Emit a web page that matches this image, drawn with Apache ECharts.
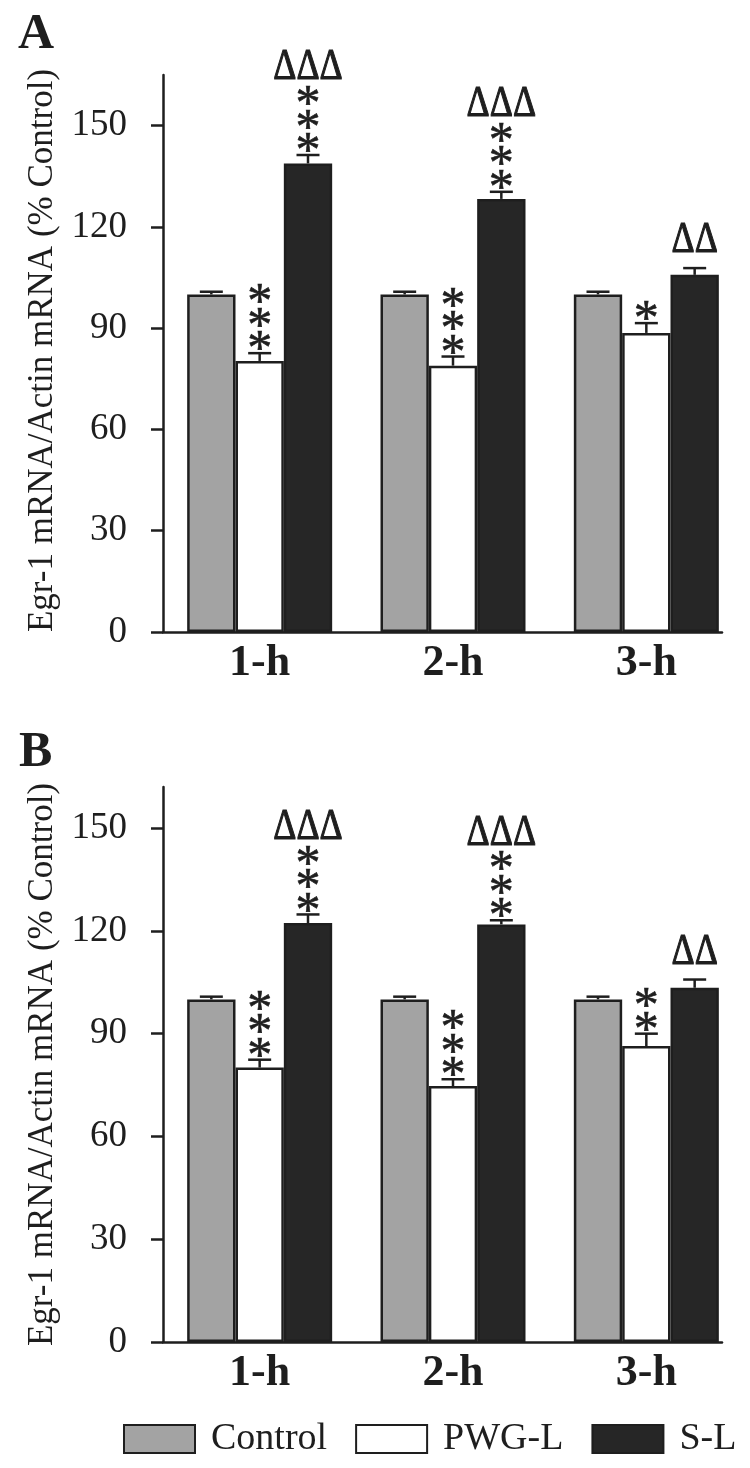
<!DOCTYPE html>
<html>
<head>
<meta charset="utf-8">
<script src="https://cdn.jsdelivr.net/npm/echarts@6/dist/echarts.min.js"></script>
<style>
html,body{margin:0;padding:0;background:#fff;}
#chart{width:750px;height:1468px;}
</style>
</head>
<body>
<div id="chart"></div>
<script>
// ---------- data ----------
const categories = ['1-h', '2-h', '3-h'];
const yTicks = [0, 30, 60, 90, 120, 150];
const seriesNames = ['Control', 'PWG-L', 'S-L'];
const yTitle = 'Egr-1 mRNA/Actin mRNA (% Control)';

// Panel A
const aControl = [100, 100, 100];
const aControlSE = [0.8, 0.8, 0.8];
const aPwg = [80.3, 78.9, 88.6];
const aPwgSE = [2.3, 2.7, 2.9];
const aSl = [138.8, 128.3, 105.8];
const aSlSE = [2.5, 2.1, 2.0];
const aPwgStars = ['***', '***', '*'];
const aSlStars = ['***', '***', ''];
const aSlDeltas = ['ΔΔΔ', 'ΔΔΔ', 'ΔΔ'];
const aMax = 165;

// Panel B
const bControl = [100, 100, 100];
const bControlSE = [0.8, 0.8, 0.8];
const bPwg = [80.1, 74.7, 86.4];
const bPwgSE = [2.3, 2.0, 3.6];
const bSl = [122.3, 121.9, 103.4];
const bSlSE = [2.5, 1.2, 2.4];
const bPwgStars = ['***', '***', '**'];
const bSlStars = ['***', '***', ''];
const bSlDeltas = ['ΔΔΔ', 'ΔΔΔ', 'ΔΔ'];
const bMax = 162;

// ---------- style ----------
const FONT = '"Liberation Serif", "Times New Roman", serif';
const INK = '#1e1e1e';
const fills = ['#a3a3a3', '#ffffff', '#262626'];
const CAT_GAP = 0.25;

const chart = echarts.init(document.getElementById('chart'), null, {renderer: 'canvas'});

function barSeries(gridIdx, name, k, values) {
  return {
    type: 'bar', name: name, xAxisIndex: gridIdx, yAxisIndex: gridIdx,
    data: values, barGap: '0%', barCategoryGap: (CAT_GAP * 100) + '%',
    itemStyle: {color: fills[k], borderColor: INK, borderWidth: 2.5},
    emphasis: {disabled: true}, silent: true, z: 2
  };
}

function annotSeries(gridIdx, k, values, ses, stars, deltas) {
  return {
    type: 'custom', name: 'err' + gridIdx + '_' + k,
    xAxisIndex: gridIdx, yAxisIndex: gridIdx, z: 5, silent: true, clip: false,
    data: values.map((v, i) => [i, v, ses[i]]),
    encode: {x: 0, y: 1},
    renderItem: function (params, api) {
      const ci = api.value(0), v = api.value(1), se = api.value(2);
      const band = api.size([1, 0])[0];
      const bw = band * (1 - CAT_GAP) / 3;
      const top = api.coord([ci, v]);
      const cap = api.coord([ci, v + se]);
      const x = top[0] + (k - 1) * bw;
      const children = [
        {type: 'line', shape: {x1: x, y1: top[1], x2: x, y2: cap[1]}, style: {stroke: INK, lineWidth: 2.5}},
        {type: 'line', shape: {x1: x - 11.5, y1: cap[1], x2: x + 11.5, y2: cap[1]}, style: {stroke: INK, lineWidth: 2.5}}
      ];
      const s = stars ? stars[params.dataIndex] : '';
      const n = s.length;
      for (let j = 0; j < n; j++) {
        children.push({
          type: 'text', x: x, y: cap[1] - 2 - 23.5 * j,
          style: {text: '*', fontSize: 50, fontFamily: FONT, fill: INK, stroke: INK, lineWidth: 0.6,
            align: 'center', verticalAlign: 'middle'}
        });
      }
      const d = deltas ? deltas[params.dataIndex] : '';
      if (d) {
        children.push({
          type: 'text', x: x, y: cap[1] - 5 - 20 * n, scaleX: 0.8,
          style: {text: d, fontSize: 45, fontFamily: FONT, fill: INK, stroke: INK, lineWidth: 1.2,
            align: 'center', verticalAlign: 'bottom'}
        });
      }
      return {type: 'group', children: children};
    }
  };
}

function yAxisDef(gridIdx, max, shift) {
  return {
    type: 'value', gridIndex: gridIdx, min: 0, max: max,
    name: yTitle, nameLocation: 'middle', nameRotate: 90, nameGap: 100,
    nameTextStyle: {fontFamily: FONT, fontSize: 35, color: INK, padding: [0, 0, 0, shift]},
    axisLine: {show: true, lineStyle: {color: INK, width: 2.5}},
    axisTick: {show: true, length: 12, lineStyle: {color: INK, width: 2.5}, customValues: yTicks},
    axisLabel: {fontFamily: FONT, fontSize: 37, color: INK, margin: 36, customValues: yTicks},
    splitLine: {show: false}
  };
}

function xCatAxis(gridIdx) {
  return {
    type: 'category', gridIndex: gridIdx, data: categories,
    axisLine: {show: false}, axisTick: {show: false},
    axisLabel: {fontFamily: FONT, fontSize: 44, fontWeight: 'bold', color: INK, margin: 10}
  };
}

function xLineAxis(gridIdx) {
  return {
    type: 'value', gridIndex: gridIdx, min: 0, max: 1,
    axisLine: {show: true, onZero: false, lineStyle: {color: INK, width: 2.5}},
    axisTick: {show: false}, axisLabel: {show: false}, splitLine: {show: false}
  };
}

const option = {
  backgroundColor: '#ffffff',
  animation: false,
  title: [
    {text: 'A', left: 13, top: 5, textStyle: {fontFamily: FONT, fontSize: 50, fontWeight: 'bold', color: INK}},
    {text: 'B', left: 14, top: 723, textStyle: {fontFamily: FONT, fontSize: 50, fontWeight: 'bold', color: INK}}
  ],
  legend: {
    data: seriesNames.map(n => ({name: n, icon: 'rect'})),
    left: 123, top: 1420, width: 627, padding: 0,
    itemWidth: 71, itemHeight: 28, itemGap: 28,
    selectedMode: false,
    textStyle: {fontFamily: FONT, fontSize: 38, color: INK, padding: [0, 0, 0, 11]}
  },
  grid: [
    {left: 163, top: 75, width: 580, height: 557},
    {left: 163, top: 787, width: 580, height: 555},
    {left: 163, top: 75, width: 559, height: 557},
    {left: 163, top: 787, width: 559, height: 555}
  ],
  xAxis: [xCatAxis(0), xCatAxis(1), xLineAxis(2), xLineAxis(3)],
  yAxis: [yAxisDef(0, aMax, 6), yAxisDef(1, bMax, 0),
    {type: 'value', gridIndex: 2, show: false, min: 0, max: 1},
    {type: 'value', gridIndex: 3, show: false, min: 0, max: 1}],
  series: [
    barSeries(0, seriesNames[0], 0, aControl),
    barSeries(0, seriesNames[1], 1, aPwg),
    barSeries(0, seriesNames[2], 2, aSl),
    barSeries(1, seriesNames[0], 0, bControl),
    barSeries(1, seriesNames[1], 1, bPwg),
    barSeries(1, seriesNames[2], 2, bSl),
    annotSeries(0, 0, aControl, aControlSE, null, null),
    annotSeries(0, 1, aPwg, aPwgSE, aPwgStars, null),
    annotSeries(0, 2, aSl, aSlSE, aSlStars, aSlDeltas),
    annotSeries(1, 0, bControl, bControlSE, null, null),
    annotSeries(1, 1, bPwg, bPwgSE, bPwgStars, null),
    annotSeries(1, 2, bSl, bSlSE, bSlStars, bSlDeltas)
  ]
};
chart.setOption(option);
</script>
</body>
</html>
